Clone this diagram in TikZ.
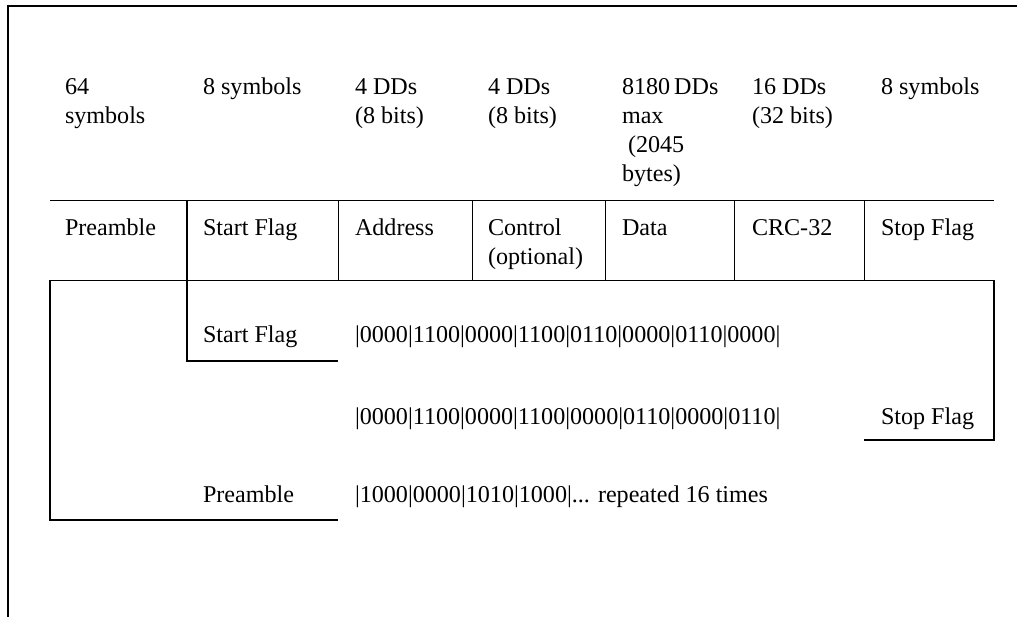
\documentclass[tikz,border=0pt]{standalone}
\usepackage{fontspec}
\setmainfont{Liberation Serif}
\begin{document}
\begin{tikzpicture}[x=1pt,y=-1pt,
  lbl/.style={anchor=base west,inner sep=0pt,outer sep=0pt,font=\fontsize{24.1}{29.3}\selectfont},
  thin/.style={line width=1pt},
  thick/.style={line width=2pt},
  frame/.style={line width=2.2pt}]
\useasboundingbox (0,0) rectangle (1017,616);
\newcommand{\ml}[1]{\begin{tabular}[t]{@{}l@{}}#1\end{tabular}}
% outer frame (only left and top edges visible)
\draw[frame] (8,620) -- (8,6) -- (1020,6);
% table lines
\draw[thin] (50,200) -- (994,200);
\draw[thin] (50,280) -- (994,280);
\foreach \x in {338,472,605,734,864} \draw[thin] (\x,200) -- (\x,280);
% brackets
\draw[thick] (187,200) -- (187,361) -- (338,361);
\draw[thick] (50,280) -- (50,520) -- (338,520);
\draw[thick] (994,280) -- (994,440) -- (864,440);
% top labels
\node[lbl] (s1) at (65,94) {\ml{64\\symbols}};
\node[lbl] (s2) at (203,94) {\ml{8 symbols}};
\node[lbl] (s3) at (355,94) {\ml{4 DDs\\(8 bits)}};
\node[lbl] (s4) at (488,94) {\ml{4 DDs\\(8 bits)}};
\node[lbl] (s5) at (622,94) {\ml{8180\,DDs\\max\\\hspace*{0.25em}(2045\\bytes)}};
\node[lbl] (s6) at (752,94) {\ml{16 DDs\\(32 bits)}};
\node[lbl] (s7) at (881,94) {\ml{8 symbols}};
% field names
\node[lbl] (f1) at (65,235) {\ml{Preamble}};
\node[lbl] (f2) at (203,235) {\ml{Start Flag}};
\node[lbl] (f3) at (355,235) {\ml{Address}};
\node[lbl] (f4) at (488,235) {\ml{Control\\(optional)}};
\node[lbl] (f5) at (622,235) {\ml{Data}};
\node[lbl] (f6) at (752,235) {\ml{CRC-32}};
\node[lbl] (f7) at (881,235) {\ml{Stop Flag}};
% details
\node[lbl] (d1) at (203,342) {Start Flag};
\node[lbl] (b1) at (355,342) {|0000|1100|0000|1100|0110|0000|0110|0000|};
\node[lbl] (b2) at (355,424) {|0000|1100|0000|1100|0000|0110|0000|0110|};
\node[lbl] (d2) at (881,424) {Stop Flag};
\node[lbl] (d3) at (203,502) {Preamble};
\node[lbl] (b3) at (355,502) {|1000|0000|1010|1000|... repeated 16 times};
\end{tikzpicture}
\end{document}
